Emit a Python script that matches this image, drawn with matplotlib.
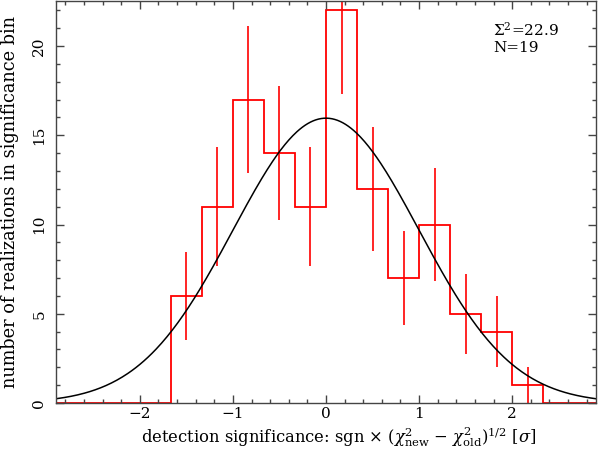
# histogram of detection significance with gaussian overlay
import matplotlib
matplotlib.use('Agg')
import matplotlib.pyplot as plt
from matplotlib.ticker import MultipleLocator
import numpy as np

# counts per significance bin (bin width 1/3 sigma), first bin starts at -5/3
bin_lo = -5.0 / 3.0
bin_w = 1.0 / 3.0
counts = [6, 11, 17, 14, 11, 22, 12, 7, 10, 5, 4, 1]
sigma2_text = r'$\Sigma^2$=22.9'
n_text = 'N=19'

plt.rcParams['font.family'] = ['DejaVu Serif']
plt.rcParams['mathtext.fontset'] = 'dejavuserif'

fig = plt.figure(figsize=(5.98, 4.51), dpi=100)
W, H = 598.0, 451.0
ax = fig.add_axes([56 / W, (H - 403) / H, 540 / W, 402.5 / H])

counts = np.array(counts, dtype=float)
edges = bin_lo + bin_w * np.arange(len(counts) + 1)
centers = 0.5 * (edges[:-1] + edges[1:])

# pad with empty bins so the line runs along zero to the frame
n_left, n_right = 4, 2
pad_vals = np.concatenate([np.zeros(n_left), counts, np.zeros(n_right)])
pad_edges = bin_lo - bin_w * n_left + bin_w * np.arange(len(pad_vals) + 1)
ax.stairs(pad_vals, pad_edges, baseline=None, color='red', lw=1.3)
ax.errorbar(centers, counts, yerr=np.sqrt(counts), fmt='none',
            ecolor='red', elinewidth=1.2, capsize=0)

# expected gaussian (unit width) scaled to the total count
xs = np.linspace(-2.9, 2.9, 400)
ntot = counts.sum()
ax.plot(xs, ntot * bin_w * np.exp(-0.5 * xs**2) / np.sqrt(2 * np.pi),
        color='black', lw=1.1)

ax.set_xlim(-2.9, 2.9)
ax.set_ylim(0, 22.55)
ax.xaxis.set_major_locator(MultipleLocator(1))
ax.xaxis.set_minor_locator(MultipleLocator(0.2))
ax.yaxis.set_major_locator(MultipleLocator(5))
ax.yaxis.set_minor_locator(MultipleLocator(1))
ax.tick_params(which='both', direction='in', top=True, right=True,
               color='#444444', width=1.0, labelsize=11)
ax.tick_params(which='major', length=6)
ax.tick_params(which='minor', length=3)
ax.tick_params(axis='x', pad=3)
ax.tick_params(axis='y', pad=7, labelrotation=90)
for lab in ax.get_yticklabels():
    lab.set_va('center')
for s in ax.spines.values():
    s.set_color('#444444')
    s.set_linewidth(1.0)

ax.set_xlabel(r'detection significance: sgn $\times$ ($\chi^2_{\rm new}$ $-$ $\chi^2_{\rm old}$)$^{1/2}$ [$\sigma$]',
              fontsize=11.8)
ax.xaxis.set_label_coords(0.523, -0.054)
ax.set_ylabel('number of realizations in significance bin', fontsize=12.8)
ax.yaxis.set_label_coords(-0.068, 0.5)

fig.text(493 / W, 1 - 35.5 / H, sigma2_text, fontsize=11, va='baseline')
fig.text(493 / W, 1 - 52.5 / H, n_text, fontsize=11, va='baseline')

fig.savefig('out.png', dpi=100)
